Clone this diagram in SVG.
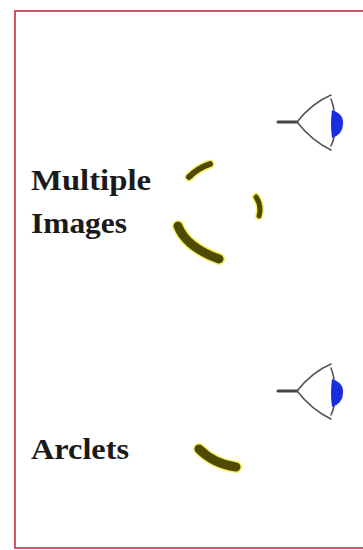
<svg xmlns="http://www.w3.org/2000/svg" width="363" height="550" viewBox="0 0 363 550">
  <style>
    .label { font-family: "Liberation Serif", "Times New Roman", serif; font-size: 30px; font-weight: bold; fill: #1a1a1a; }
    .frame { fill: none; stroke: #cc5566; stroke-width: 2; }
    .halo { fill: none; stroke: #f2ee30; stroke-linecap: round; opacity: 0.75; }
    .arc { fill: none; stroke: #4f4a00; stroke-linecap: round; }
    .eye-line { fill: none; stroke: #555; stroke-width: 1.6; stroke-linecap: round; }
    .pupil { fill: #1a2ee0; }
  </style>
  <defs>
    <!-- observer: line of sight, eyelids and blue lens -->
    <g id="eye">
      <line x1="278" y1="122" x2="297" y2="122" stroke="#444" stroke-width="3" stroke-linecap="round"/>
      <path class="eye-line" d="M297 122 Q312 103 331 95"/>
      <path class="eye-line" d="M297 122 Q312 141 331 150"/>
      <path class="eye-line" d="M331 99 Q333 104 334 110" stroke-width="1"/>
      <path class="eye-line" d="M331 146 Q333 142 334 137" stroke-width="1"/>
      <path class="pupil" d="M332 110 Q344 114 343 124 Q343 134 332 138 Q330 124 332 110 Z"/>
    </g>
  </defs>

  <!-- outer frame -->
  <path class="frame" d="M364 11 H15 V548 H364"/>

  <g id="label-multiple-images">
    <text class="label" x="31" y="190" textLength="120" lengthAdjust="spacingAndGlyphs">Multiple</text>
    <text class="label" x="31" y="233" textLength="96" lengthAdjust="spacingAndGlyphs">Images</text>
  </g>

  <g id="label-arclets">
    <text class="label" x="31" y="459" textLength="98" lengthAdjust="spacingAndGlyphs">Arclets</text>
  </g>

  <g id="eye-top">
    <use href="#eye"/>
  </g>

  <g id="eye-bottom">
    <use href="#eye" transform="translate(0,269)"/>
  </g>

  <g id="multiple-images">
    <path class="halo" stroke-width="9" d="M189 177 Q198 168 210 164"/>
    <path class="arc" stroke-width="6" d="M189 177 Q198 168 210 164"/>
    <path class="halo" stroke-width="8" d="M256 197 Q262 206 259 216"/>
    <path class="arc" stroke-width="5" d="M256 197 Q262 206 259 216"/>
    <path class="halo" stroke-width="12" d="M178 226 Q186 247 219 259"/>
    <path class="arc" stroke-width="9" d="M178 226 Q186 247 219 259"/>
  </g>

  <g id="arclet">
    <path class="halo" stroke-width="12" d="M199 449 Q214 464 236 467"/>
    <path class="arc" stroke-width="9" d="M199 449 Q214 464 236 467"/>
  </g>
</svg>
